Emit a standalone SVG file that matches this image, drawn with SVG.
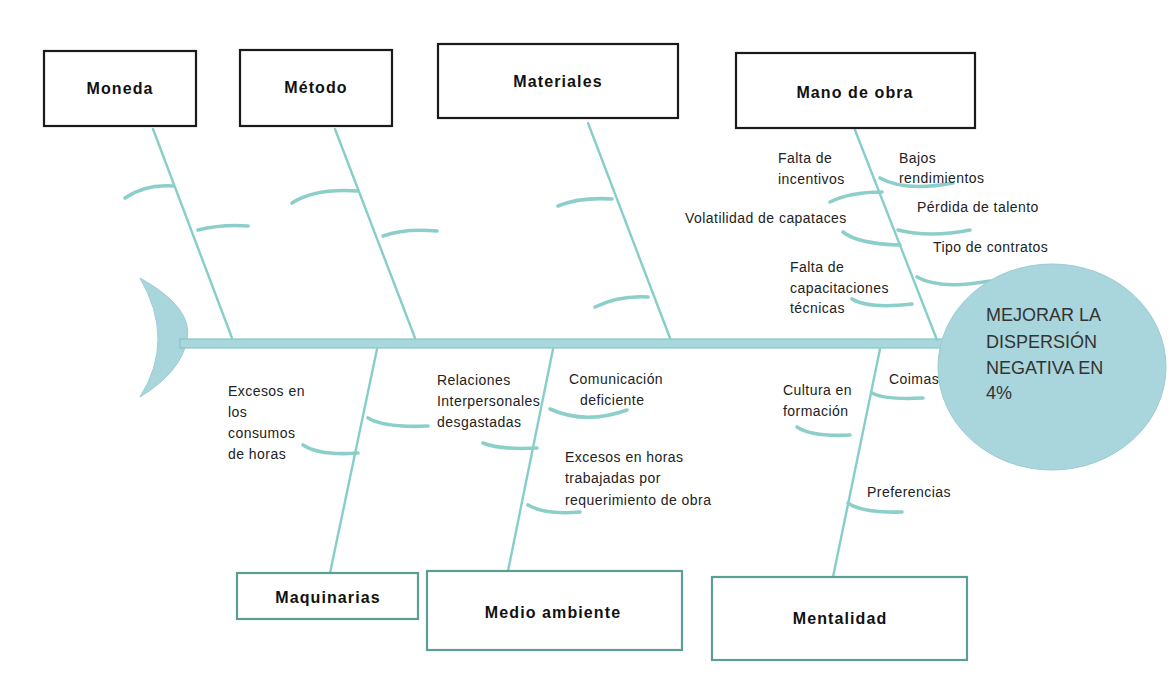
<svg xmlns="http://www.w3.org/2000/svg" width="1171" height="697" viewBox="0 0 1171 697">
  <style>
    .box-top { fill: #ffffff; stroke: #1a1a1a; stroke-width: 2.2; }
    .box-bot { fill: #ffffff; stroke: #5a9e95; stroke-width: 2.2; }
    .title { font-family: "Liberation Sans", "DejaVu Sans", sans-serif; font-size: 16px; font-weight: bold; letter-spacing: 1.1px; fill: #111; text-anchor: middle; }
    .lbl { font-family: "Liberation Sans", "DejaVu Sans", sans-serif; font-size: 14px; letter-spacing: 0.45px; fill: #222; }
    .goal { font-family: "Liberation Sans", "DejaVu Sans", sans-serif; font-size: 18px; fill: #333; }
    .bone { fill: none; stroke: #86cfc8; stroke-width: 2.4; stroke-linecap: round; }
    .sub { fill: none; stroke: #8ccfca; stroke-width: 3.6; stroke-linecap: round; }
  </style>

  <rect width="1171" height="697" fill="#ffffff"/>

  <!-- tail fin -->
  <g id="tail">
    <path d="M140,278 Q194,308 187,340 Q181,372 140,397 Q176,340 140,278 Z" fill="#a9d6dc" stroke="#9ccbd2" stroke-width="1"/>
  </g>

  <!-- connectors: spine, main bones and secondary bones -->
  <g id="connectors">
    <rect x="180" y="339" width="765" height="9" fill="#a8d8dc" stroke="#86c6c6" stroke-width="1.2"/>

    <!-- upper main bones -->
    <line class="bone" x1="153" y1="129" x2="232" y2="338"/>
    <line class="bone" x1="335" y1="129" x2="415" y2="338"/>
    <line class="bone" x1="588" y1="123" x2="670" y2="338"/>
    <line class="bone" x1="855" y1="130" x2="937" y2="340"/>

    <!-- lower main bones -->
    <line class="bone" x1="377" y1="349" x2="330" y2="573"/>
    <line class="bone" x1="553" y1="349" x2="508" y2="571"/>
    <line class="bone" x1="880" y1="349" x2="833" y2="577"/>

    <!-- Moneda sub-bones -->
    <path class="sub" d="M125,198 Q145,184 173,186"/>
    <path class="sub" d="M198,230 Q222,224 248,226"/>
    <!-- Método sub-bones -->
    <path class="sub" d="M292,203 Q315,188 358,191"/>
    <path class="sub" d="M383,236 Q405,228 437,231"/>
    <!-- Materiales sub-bones -->
    <path class="sub" d="M558,206 Q580,197 612,199"/>
    <path class="sub" d="M595,307 Q620,295 648,297"/>
    <!-- Mano de obra sub-bones -->
    <path class="sub" d="M830,202 Q850,192 882,192"/>
    <path class="sub" d="M843,232 Q858,244 900,245"/>
    <path class="sub" d="M852,299 Q868,309 912,304"/>
    <path class="sub" d="M880,178 Q905,192 953,183"/>
    <path class="sub" d="M898,230 Q930,238 970,230"/>
    <path class="sub" d="M917,277 Q940,290 990,281"/>
    <!-- Maquinarias sub-bones -->
    <path class="sub" d="M368,418 Q385,428 428,426"/>
    <path class="sub" d="M303,445 Q320,456 358,453"/>
    <!-- Medio ambiente sub-bones -->
    <path class="sub" d="M483,443 Q500,450 537,448"/>
    <path class="sub" d="M550,409 Q585,425 627,410"/>
    <path class="sub" d="M528,505 Q545,515 580,512"/>
    <!-- Mentalidad sub-bones -->
    <path class="sub" d="M872,393 Q885,400 923,398"/>
    <path class="sub" d="M797,427 Q812,437 850,435"/>
    <path class="sub" d="M848,503 Q862,513 902,512"/>
  </g>

  <!-- fish head: goal -->
  <g id="goal">
    <ellipse cx="1052" cy="367" rx="114" ry="103" fill="#a9d5dc" stroke="#9ccbd2" stroke-width="1"/>
    <text class="goal" x="986" y="321">MEJORAR LA</text>
    <text class="goal" x="986" y="348">DISPERSIÓN</text>
    <text class="goal" x="986" y="374">NEGATIVA EN</text>
    <text class="goal" x="986" y="399">4%</text>
  </g>

  <!-- category boxes -->
  <g id="moneda">
    <rect class="box-top" x="44" y="51" width="152" height="75"/>
    <text class="title" x="120" y="94">Moneda</text>
  </g>
  <g id="metodo">
    <rect class="box-top" x="240" y="50" width="152" height="76"/>
    <text class="title" x="316" y="93">Método</text>
  </g>
  <g id="materiales">
    <rect class="box-top" x="438" y="44" width="240" height="74"/>
    <text class="title" x="558" y="87">Materiales</text>
  </g>
  <g id="mano-de-obra">
    <rect class="box-top" x="736" y="53" width="239" height="75"/>
    <text class="title" x="855" y="98">Mano de obra</text>
  </g>
  <g id="maquinarias">
    <rect class="box-bot" x="237" y="573" width="181" height="46"/>
    <text class="title" x="328" y="603">Maquinarias</text>
  </g>
  <g id="medio-ambiente">
    <rect class="box-bot" x="427" y="571" width="255" height="79"/>
    <text class="title" x="553" y="618">Medio ambiente</text>
  </g>
  <g id="mentalidad">
    <rect class="box-bot" x="712" y="577" width="255" height="83"/>
    <text class="title" x="840" y="624">Mentalidad</text>
  </g>

  <!-- cause labels -->
  <g id="causes-mano-de-obra">
    <text class="lbl" x="778" y="163">Falta de</text>
    <text class="lbl" x="778" y="184">incentivos</text>
    <text class="lbl" x="685" y="223">Volatilidad de capataces</text>
    <text class="lbl" x="790" y="272">Falta de</text>
    <text class="lbl" x="790" y="293">capacitaciones</text>
    <text class="lbl" x="790" y="313">técnicas</text>
    <text class="lbl" x="899" y="163">Bajos</text>
    <text class="lbl" x="899" y="183">rendimientos</text>
    <text class="lbl" x="917" y="212">Pérdida de talento</text>
    <text class="lbl" x="933" y="252">Tipo de contratos</text>
  </g>
  <g id="causes-maquinarias">
    <text class="lbl" x="228" y="396">Excesos en</text>
    <text class="lbl" x="228" y="417">los</text>
    <text class="lbl" x="228" y="438">consumos</text>
    <text class="lbl" x="228" y="459">de horas</text>
  </g>
  <g id="causes-medio-ambiente">
    <text class="lbl" x="437" y="385">Relaciones</text>
    <text class="lbl" x="437" y="406">Interpersonales</text>
    <text class="lbl" x="437" y="427">desgastadas</text>
    <text class="lbl" x="569" y="384">Comunicación</text>
    <text class="lbl" x="580" y="405">deficiente</text>
    <text class="lbl" x="565" y="462">Excesos en horas</text>
    <text class="lbl" x="565" y="483">trabajadas por</text>
    <text class="lbl" x="565" y="505">requerimiento de obra</text>
  </g>
  <g id="causes-mentalidad">
    <text class="lbl" x="783" y="395">Cultura en</text>
    <text class="lbl" x="783" y="416">formación</text>
    <text class="lbl" x="889" y="384">Coimas</text>
    <text class="lbl" x="867" y="497">Preferencias</text>
  </g>
</svg>
